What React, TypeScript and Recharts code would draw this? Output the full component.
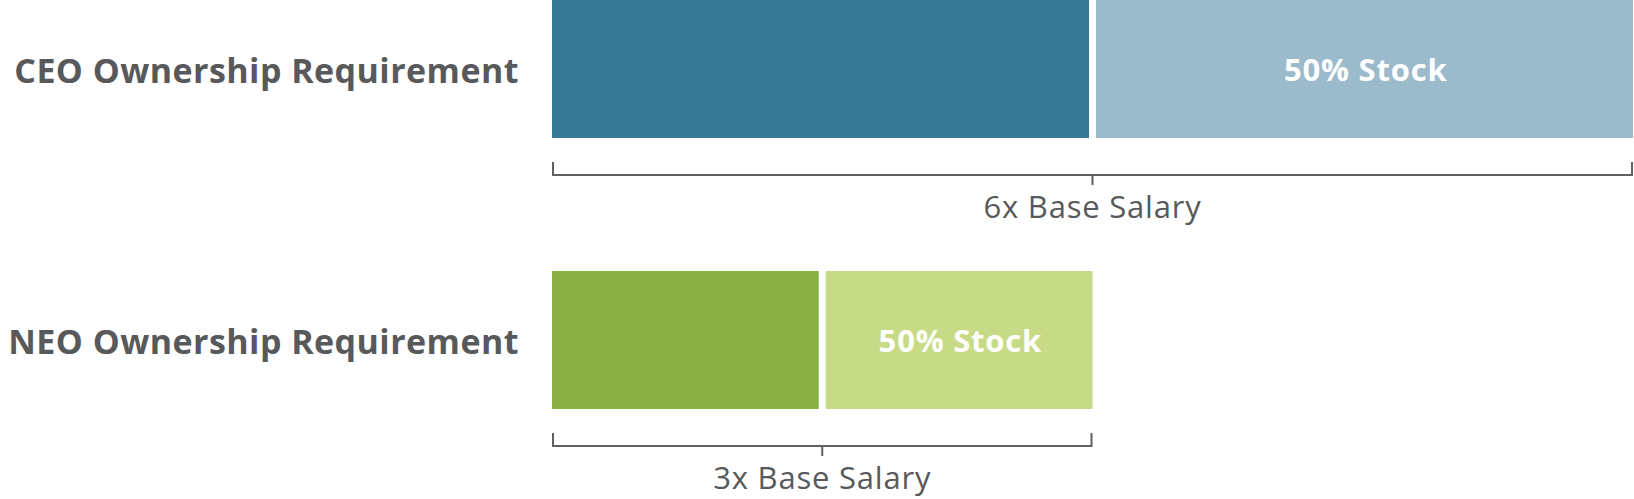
import * as React from "react"
import { BarChart, Bar, XAxis, YAxis, Cell, LabelList } from "recharts"

const categories = ["CEO Ownership Requirement", "NEO Ownership Requirement"]
const baseShare = [3, 1.5]
const stockShare = [3, 1.5]
const stockLabels = ["50% Stock", "50% Stock"]
const totalLabels = ["6x Base Salary", "3x Base Salary"]
const baseColors = ["#367896", "#8AB043"]
const stockColors = ["#9BBACB", "#C7DA85"]

const data = categories.map((name, i) => ({
  name,
  base: baseShare[i],
  stock: stockShare[i],
  stockLabel: stockLabels[i],
  totalLabel: totalLabels[i],
}))

const font = "'Open Sans', sans-serif"
const textColor = "#58595B"
const lineColor = "#5F6062"
const gap = 3.5

function BaseShape(props: any) {
  const { x, y, width, height, fill } = props
  return <rect x={x} y={y} width={Math.max(width - gap, 0)} height={height} fill={fill} />
}

function StockShape(props: any) {
  const { x, y, width, height, fill, payload } = props
  const baseWidth = width * (payload.base / payload.stock)
  const start = x - baseWidth
  const end = x + width
  const lineY = y + height + 37
  const mid = (start + end) / 2
  return (
    <g>
      <rect x={x + gap} y={y} width={Math.max(width - gap, 0)} height={height} fill={fill} />
      <path
        d={`M${start + 1},${lineY - 13} V${lineY} H${end - 1} V${lineY - 13} M${mid},${lineY} V${lineY + 10}`}
        stroke={lineColor}
        strokeWidth={2}
        fill="none"
      />
      <text
        x={mid}
        y={lineY + 43}
        textAnchor="middle"
        fill={textColor}
        fontFamily={font}
        fontSize={31}
        letterSpacing={0.8}
      >
        {payload.totalLabel}
      </text>
    </g>
  )
}

function StockLabel(props: any) {
  const { x, y, width, height, value } = props
  return (
    <text
      x={x + width / 2 + 3}
      y={y + height / 2 + 12}
      textAnchor="middle"
      fill="#FFFFFF"
      fontFamily={font}
      fontSize={31}
      fontWeight={700}
      letterSpacing={0.8}
    >
      {value}
    </text>
  )
}

function CategoryTick(props: any) {
  const { x, y, payload } = props
  return (
    <text
      x={x}
      y={y + 14.5}
      textAnchor="end"
      fill={textColor}
      fontFamily={font}
      fontSize={34}
      fontWeight={700}
      letterSpacing={0.45}
    >
      {payload.value}
    </text>
  )
}

export default function App() {
  return (
    <div style={{ width: 1634, height: 499 }}>
      <style>{`body{margin:0}`}</style>
      <BarChart
        width={1634}
        height={499}
        data={data}
        layout="vertical"
        margin={{ top: -67, right: 1, bottom: 24, left: 0 }}
        barSize={138}
      >
        <XAxis type="number" domain={[0, 6]} hide />
        <YAxis
          type="category"
          dataKey="name"
          width={552}
          axisLine={false}
          tickLine={false}
          tickMargin={27}
          tick={<CategoryTick />}
        />
        <Bar dataKey="base" stackId="a" shape={<BaseShape />} isAnimationActive={false}>
          {data.map((d, i) => (
            <Cell key={`base-${i}`} fill={baseColors[i]} />
          ))}
        </Bar>
        <Bar dataKey="stock" stackId="a" shape={<StockShape />} isAnimationActive={false}>
          {data.map((d, i) => (
            <Cell key={`stock-${i}`} fill={stockColors[i]} />
          ))}
          <LabelList dataKey="stockLabel" content={<StockLabel />} />
        </Bar>
      </BarChart>
    </div>
  )
}
